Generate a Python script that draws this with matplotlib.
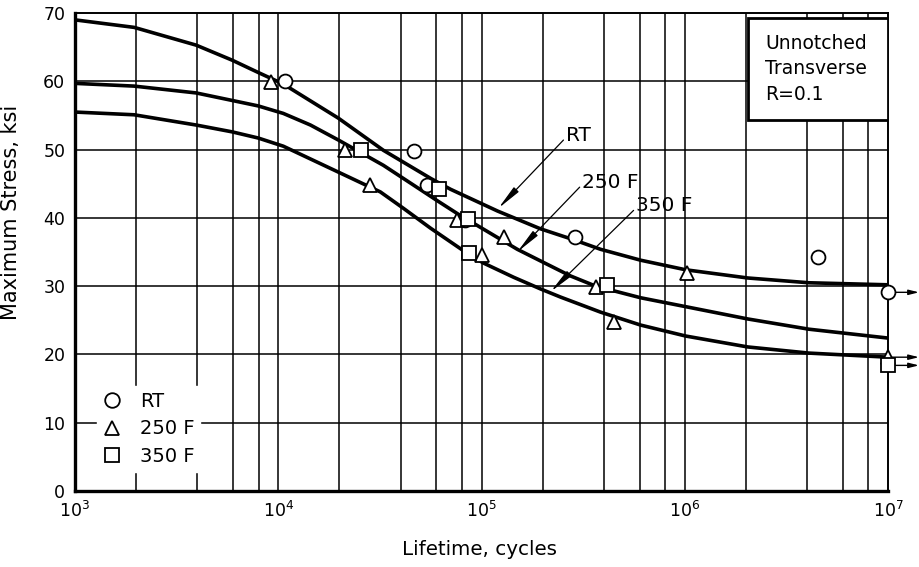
import matplotlib
matplotlib.use("Agg")
import matplotlib.pyplot as plt
from matplotlib.lines import Line2D
from matplotlib.patches import Rectangle

# --- fitted curves (cycles, ksi) ---
rt_curve_n = [1e3, 1954, 3944, 5929, 7962, 1.059e4, 1.977e4, 3.29e4, 5.61e4, 7.03e4,
              1.2e5, 1.95e5, 2.84e5, 3.85e5, 6.07e5, 1.01e6, 2.04e6, 4.08e6, 1e7]
rt_curve_s = [69.0, 67.9, 65.3, 63.1, 61.3, 59.6, 54.6, 49.9, 45.8, 44.2,
              41.0, 38.4, 36.8, 35.4, 33.8, 32.4, 31.2, 30.5, 30.2]

f250_curve_n = [1e3, 1954, 3944, 5929, 7962, 1.059e4, 1.44e4, 1.977e4, 3.29e4, 4.47e4, 6.07e4,
                7.63e4, 1.5e5, 1.95e5, 2.74e5, 3.65e5, 6.07e5, 1.01e6, 2.04e6, 4.08e6, 1e7]
f250_curve_s = [59.7, 59.3, 58.3, 57.2, 56.4, 55.3, 53.6, 51.4, 47.7, 45.1, 42.5,
                40.6, 35.4, 33.7, 31.5, 30.0, 28.3, 27.0, 25.2, 23.7, 22.4]

f350_curve_n = [1e3, 1954, 3944, 5929, 7962, 1.059e4, 1.977e4, 3.18e4, 4.13e4, 5.61e4, 8.05e4,
                1.02e5, 1.44e5, 1.95e5, 2.45e5, 3.85e5, 6.07e5, 1.01e6, 2.04e6, 4.08e6, 1e7]
f350_curve_s = [55.5, 55.1, 53.6, 52.6, 51.7, 50.5, 46.7, 43.8, 41.4, 38.5, 35.3,
                33.4, 31.3, 29.6, 28.4, 26.2, 24.3, 22.7, 21.1, 20.2, 19.6]

# --- test points ---
rt_n = [1.08e4, 4.64e4, 5.4e4, 8.3e4, 2.9e5, 4.5e6, 1e7]
rt_s = [60.0, 49.8, 44.8, 39.7, 37.2, 34.3, 29.1]

f250_n = [9.2e3, 2.14e4, 2.84e4, 7.6e4, 1.0e5, 1.29e5, 3.65e5, 4.49e5, 1.03e6, 1e7]
f250_s = [59.9, 49.9, 44.8, 39.7, 34.6, 37.2, 29.9, 24.8, 31.9, 19.6]

f350_n = [2.54e4, 6.17e4, 8.6e4, 8.65e4, 4.16e5, 1e7]
f350_s = [49.9, 44.3, 39.9, 34.8, 30.2, 18.4]

# run-outs at 10^7 (start stress), shown with arrows to the right
runout_s = [29.1, 19.6, 18.4]

# curve label arrows: (text, tail_n, tail_s, tip_n, tip_s)
curve_labels = [
    ("RT", 2.53e5, 51.4, 1.21e5, 41.4),
    ("250 F", 3.04e5, 44.5, 1.5e5, 35.0),
    ("350 F", 5.6e5, 41.1, 2.19e5, 29.2),
]

plt.rcParams["font.family"] = ["DejaVu Sans"]

fig = plt.figure(figsize=(9.19, 5.67), dpi=100)
ax = fig.add_axes([0.0816, 0.134, 0.8847, 0.843])

ax.set_xscale("log")
ax.set_xlim(1e3, 1e7)
ax.set_ylim(0, 70)

# grid: every 10 ksi, and 2,4,6,8 plus decades on the x axis
grid_x = [m * 10 ** d for d in range(3, 7) for m in (1, 2, 4, 6, 8)]
for gx in grid_x:
    ax.axvline(gx, color="black", lw=1.1, zorder=1)
for gy in range(10, 70, 10):
    ax.axhline(gy, color="black", lw=1.1, zorder=1)

ax.set_xticks([1e3, 1e4, 1e5, 1e6, 1e7])
ax.set_xticklabels([r"$10^{3}$", r"$10^{4}$", r"$10^{5}$", r"$10^{6}$", r"$10^{7}$"])
ax.xaxis.set_minor_locator(plt.NullLocator())
ax.set_yticks(range(0, 71, 10))
ax.tick_params(length=0, labelsize=12.5, pad=7)

for side in ("left", "bottom"):
    ax.spines[side].set_linewidth(2.4)
for side in ("top", "right"):
    ax.spines[side].set_linewidth(1.4)

# curves
for cn, cs in [(rt_curve_n, rt_curve_s), (f250_curve_n, f250_curve_s), (f350_curve_n, f350_curve_s)]:
    ax.plot(cn, cs, color="black", lw=2.6, zorder=3, solid_joinstyle="round")

# run-out arrows
for s in runout_s:
    ax.annotate("", xy=(1.42e7, s), xytext=(1e7, s),
                arrowprops=dict(arrowstyle="-|>,head_length=0.6,head_width=0.15",
                                color="black", lw=1.0, shrinkA=0, shrinkB=0),
                annotation_clip=False, zorder=2)

mk = dict(ms=10, mfc="white", mec="black", mew=1.3, ls="none", zorder=5, clip_on=False)
ax.plot(rt_n, rt_s, marker="o", **mk)
ax.plot(f250_n, f250_s, marker="^", **mk)
ax.plot(f350_n, f350_s, marker="s", **mk)

# labelled arrows to the curves
for text, tn, ts, hn, hs in curve_labels:
    ax.annotate("", xy=(hn, hs), xytext=(tn, ts),
                arrowprops=dict(arrowstyle="-|>,head_length=1.5,head_width=0.2",
                                color="black", lw=0.9, shrinkA=0, shrinkB=0),
                zorder=4)
    ax.text(tn * 1.03, ts + 0.7, text, fontsize=14.5, ha="left", va="center", zorder=4)

# info box
ax.add_patch(Rectangle((0.828, 0.776), 0.172, 0.214, transform=ax.transAxes,
                       facecolor="white", edgecolor="black", lw=2.0, zorder=6))
ax.text(0.849, 0.883, "Unnotched\nTransverse\nR=0.1", transform=ax.transAxes,
        fontsize=13.5, ha="left", va="center", linespacing=1.45, zorder=7)

# legend
handles = [
    Line2D([], [], marker="o", ms=10.5, mfc="white", mec="black", mew=1.3, ls="none"),
    Line2D([], [], marker="^", ms=10.5, mfc="white", mec="black", mew=1.3, ls="none"),
    Line2D([], [], marker="s", ms=10.5, mfc="white", mec="black", mew=1.3, ls="none"),
]
leg = ax.legend(handles, ["RT", "250 F", "350 F"], loc="lower left",
                bbox_to_anchor=(0.027, 0.04), borderaxespad=0, fontsize=14,
                frameon=True, fancybox=False, handlelength=1.0, handletextpad=0.9,
                labelspacing=0.45, borderpad=0.3)
leg.get_frame().set_facecolor("white")
leg.get_frame().set_edgecolor("white")
leg.get_frame().set_alpha(1)
leg.set_zorder(6)

ax.set_xlabel("Lifetime, cycles", fontsize=14.3)
ax.xaxis.set_label_coords(0.498, -0.103)
ax.set_ylabel("Maximum Stress, ksi", fontsize=15)
ax.yaxis.set_label_coords(-0.066, 0.584)

fig.savefig("out.png", dpi=100, facecolor="white")
